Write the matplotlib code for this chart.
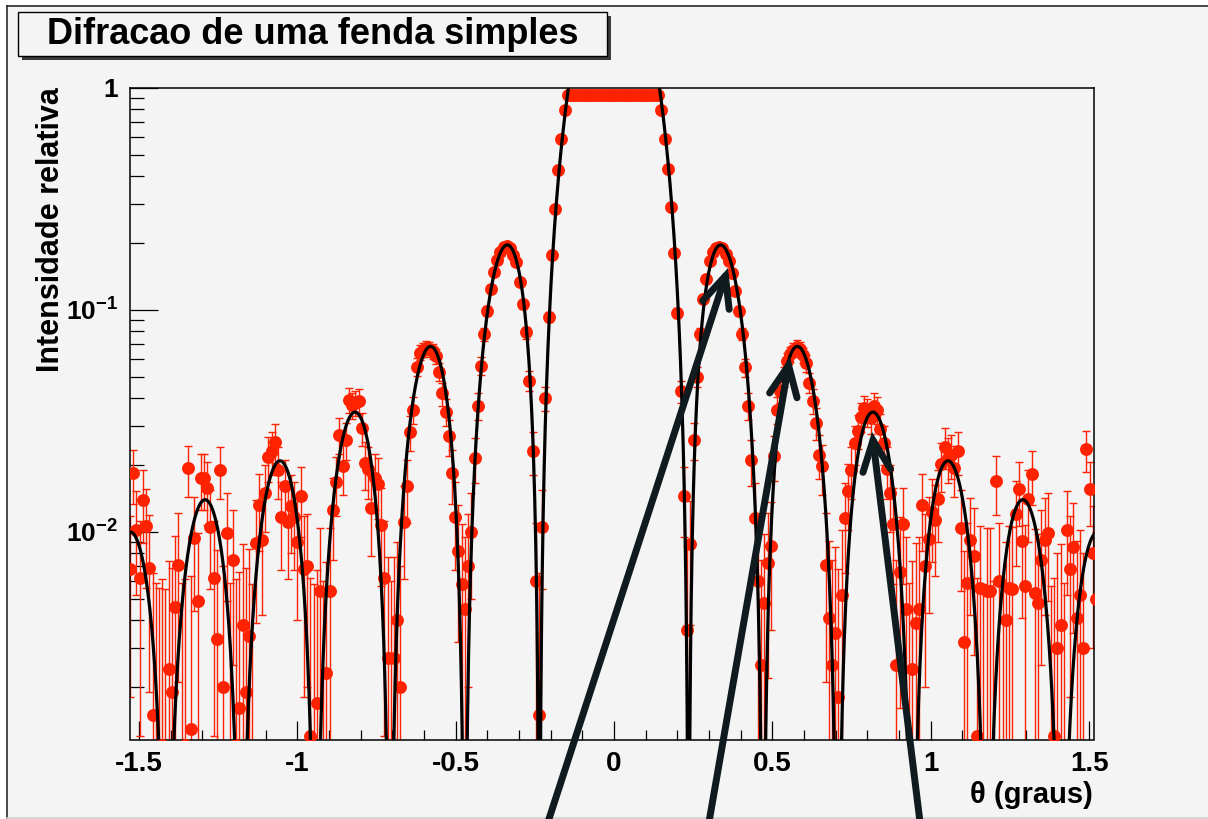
import numpy as np
import matplotlib
matplotlib.use('Agg')
import matplotlib.pyplot as plt
from matplotlib.ticker import FixedLocator, FixedFormatter, NullFormatter
from matplotlib.patches import Rectangle, FancyArrowPatch
from matplotlib.lines import Line2D
from matplotlib.transforms import IdentityTransform

plt.rcParams['font.family'] = ['Liberation Sans', 'DejaVu Sans']
plt.rcParams['font.weight'] = 'bold'
plt.rcParams['mathtext.fontset'] = 'custom'
plt.rcParams['mathtext.rm'] = 'Liberation Sans:bold'
plt.rcParams['mathtext.bf'] = 'Liberation Sans:bold'
plt.rcParams['axes.unicode_minus'] = False

# measured points: first / last angle (graus) and relative intensity
theta_first, theta_last = -1.528, 1.522
intensity = [
    0.0068, 0.0184, 0.0102, 0.0062, 0.0139, 0.0106, 0.0069, 0.0015, 0.0009, 0.0006,
    0.0011, 0.0005, 0.0024, 0.0019, 0.0046, 0.0071, 0.0009, 0.0011, 0.0194, 0.0013,
    0.0094, 0.0049, 0.0175, 0.0175, 0.0157, 0.0105, 0.0062, 0.0033, 0.0190, 0.0020,
    0.0099, 0.0009, 0.0075, 0.0011, 0.0016, 0.0038, 0.0019, 0.0034, 0.0008, 0.0089,
    0.0132, 0.0092, 0.0150, 0.0218, 0.0230, 0.0255, 0.0190, 0.0117, 0.0160, 0.0111,
    0.0130, 0.0117, 0.0090, 0.0145, 0.0068, 0.0070, 0.0012, 0.0008, 0.0017, 0.0054,
    0.0010, 0.0023, 0.0054, 0.0125, 0.0168, 0.0274, 0.0197, 0.0260, 0.0393, 0.0373,
    0.0381, 0.0390, 0.0293, 0.0204, 0.0191, 0.0128, 0.0175, 0.0164, 0.0107, 0.0062,
    0.0027, 0.0010, 0.0027, 0.0040, 0.0020, 0.0111, 0.0160, 0.0282, 0.0355, 0.0555,
    0.0641, 0.0660, 0.0675, 0.0663, 0.0650, 0.0618, 0.0527, 0.0420, 0.0348, 0.0270,
    0.0184, 0.0117, 0.0082, 0.0058, 0.0045, 0.0070, 0.0100, 0.0215, 0.0370, 0.0560,
    0.0775, 0.0990, 0.124, 0.148, 0.168, 0.182, 0.191, 0.193, 0.190, 0.176,
    0.164, 0.134, 0.106, 0.079, 0.048, 0.023, 0.0060, 0.0015, 0.0105, 0.040,
    0.093, 0.176, 0.285, 0.425, 0.590, 0.790, 0.93, 0.93, 0.93, 0.93,
    0.93, 0.93, 0.93, 0.93, 0.93, 0.93, 0.93, 0.93, 0.93, 0.93,
    0.93, 0.93, 0.93, 0.93, 0.93, 0.93, 0.93, 0.93, 0.93, 0.93,
    0.93, 0.93, 0.93, 0.93, 0.93, 0.79, 0.59, 0.43, 0.29, 0.18,
    0.097, 0.043, 0.0145, 0.0036, 0.0088, 0.026, 0.050, 0.078, 0.112, 0.138,
    0.165, 0.182, 0.190, 0.192, 0.190, 0.178, 0.166, 0.146, 0.121, 0.099,
    0.078, 0.055, 0.037, 0.021, 0.0115, 0.0060, 0.0025, 0.0048, 0.0072, 0.0086,
    0.0219, 0.0355, 0.0430, 0.0500, 0.0586, 0.0630, 0.0660, 0.0680, 0.0665, 0.0625,
    0.0575, 0.0470, 0.0390, 0.0310, 0.0222, 0.0197, 0.0071, 0.0041, 0.0025, 0.0035,
    0.0018, 0.0052, 0.0115, 0.0152, 0.0190, 0.0250, 0.0285, 0.0330, 0.0360, 0.0345,
    0.0325, 0.0370, 0.0355, 0.0290, 0.0250, 0.0191, 0.0150, 0.0108, 0.0025, 0.0066,
    0.0108, 0.0045, 0.0009, 0.0024, 0.0039, 0.0045, 0.0132, 0.0070, 0.0093, 0.0123,
    0.0113, 0.0140, 0.0201, 0.0242, 0.0215, 0.0222, 0.0193, 0.0230, 0.0104, 0.0032,
    0.0059, 0.0092, 0.0078, 0.0012, 0.0056, 0.0008, 0.0054, 0.0054, 0.0010, 0.0169,
    0.0060, 0.0009, 0.0040, 0.0056, 0.0055, 0.0120, 0.0156, 0.0091, 0.0057, 0.0140,
    0.0182, 0.0053, 0.0048, 0.0075, 0.0092, 0.0099, 0.0007, 0.0012, 0.0030, 0.0038,
    0.0009, 0.0102, 0.0068, 0.0085, 0.0041, 0.0052, 0.0030, 0.0235, 0.0156, 0.0080,
    0.0050,
]
intensity_err = 0.005

# fitted single-slit curve: amp * sinc^2(theta / zero spacing)
fit_amp = 4.15
fit_zero = 0.2355

xtick_values = [-1.5, -1, -0.5, 0, 0.5, 1, 1.5]
xtick_labels = ['-1.5', '-1', '-0.5', '0', '0.5', '1', '1.5']
ytick_values = [0.01, 0.1, 1]
ytick_labels = [r'$\mathbf{10^{-2}}$', r'$\mathbf{10^{-1}}$', '1']

# arrows (tail, tip) in picture pixels
arrows = [((548, 822), (728, 268)), ((709, 822), (790, 357)), ((920, 822), (872, 432))]

W, H = 1208, 819
BG = '#f4f4f4'
RED = '#ff2200'


def fx(px):
    return px / W


def fy(py):
    return 1 - py / H


fig = plt.figure(figsize=(W / 100, H / 100), dpi=100)
fig.patch.set_facecolor('white')
fig.add_artist(Rectangle((fx(8), 0), 1, fy(6), transform=fig.transFigure,
                         facecolor=BG, edgecolor='none', zorder=-10))
fig.add_artist(Line2D([fx(7.5), fx(7.5)], [0, fy(5.5)], color='#2a2a2a', lw=1.2))
fig.add_artist(Line2D([fx(7.5), 1], [fy(5.5), fy(5.5)], color='#2a2a2a', lw=1.2))
fig.add_artist(Line2D([fx(7.5), 1], [fy(818), fy(818)], color='#cfcfcf', lw=1.2))

# title box with shadow
bx0, by0, bx1, by1 = 18, 12, 607, 56
fig.add_artist(Rectangle((fx(bx0 + 4), fy(by1 + 4)), fx(bx1 - bx0), (by1 - by0) / H,
                         transform=fig.transFigure, facecolor='#3a3a3a', edgecolor='none'))
fig.add_artist(Rectangle((fx(bx0), fy(by1)), fx(bx1 - bx0), (by1 - by0) / H,
                         transform=fig.transFigure, facecolor=BG, edgecolor='black', lw=1))
fig.text(fx((bx0 + bx1) / 2), fy((by0 + by1) / 2 + 1), 'Difracao de uma fenda simples',
         ha='center', va='center', fontsize=26, weight='bold')

ax = fig.add_axes([fx(130.3), fy(739.5), fx(1093.5 - 130.3), (739.5 - 87.7) / H])
ax.set_facecolor(BG)

theta = np.linspace(theta_first, theta_last, len(intensity))
ax.errorbar(theta, intensity, yerr=intensity_err, fmt='none', ecolor=RED,
            elinewidth=1.0, capsize=3, capthick=1.0, zorder=2)
ax.plot(theta, intensity, 'o', color=RED, markersize=9.3, markeredgewidth=0, zorder=3)

t = np.linspace(-1.6, 1.6, 3000)
ax.plot(t, fit_amp * np.sinc(t / fit_zero) ** 2, color='black', lw=2.3, zorder=4)

ax.set_yscale('log')
ax.set_xlim(-1.527, 1.514)
ax.set_ylim(0.00116, 1.0)

ax.xaxis.set_major_locator(FixedLocator(xtick_values))
ax.xaxis.set_major_formatter(FixedFormatter(xtick_labels))
ax.xaxis.set_minor_locator(FixedLocator(np.arange(-15, 16) / 10))
ax.yaxis.set_major_locator(FixedLocator(ytick_values))
ax.yaxis.set_major_formatter(FixedFormatter(ytick_labels))
minor_y = [m * 10.0 ** e for e in (-3, -2, -1) for m in range(2, 10)]
ax.yaxis.set_minor_locator(FixedLocator(minor_y))
ax.yaxis.set_minor_formatter(NullFormatter())

ax.tick_params(which='both', direction='in', top=False, right=False, width=0.9,
               labelsize=20, color='black')
ax.tick_params(axis='x', which='major', length=14, pad=8)
ax.tick_params(axis='x', which='minor', length=7)
ax.tick_params(axis='y', which='major', length=20, pad=9, labelsize=19)
ax.tick_params(axis='y', which='minor', length=10)
for lab in ax.get_xticklabels() + ax.get_yticklabels():
    lab.set_fontweight('bold')
for s in ax.spines.values():
    s.set_linewidth(1.1)

fig.text(fx(51), fy(87), 'Intensidade relativa', rotation=90, ha='center', va='top',
         fontsize=22, weight='bold')
fig.text(fx(1093), fy(795), '\u03b8 (graus)', ha='right', va='center',
         fontsize=21, weight='bold')

for tail, tip in arrows:
    arr = FancyArrowPatch((tail[0], H - tail[1]), (tip[0], H - tip[1]),
                          arrowstyle='->,head_length=22,head_width=10',
                          mutation_scale=1, lw=5, color='#0f1b1f',
                          shrinkA=0, shrinkB=0, transform=IdentityTransform(),
                          capstyle='round', joinstyle='miter', zorder=10)
    fig.add_artist(arr)

fig.savefig('out.png', dpi=100, facecolor=fig.get_facecolor())
